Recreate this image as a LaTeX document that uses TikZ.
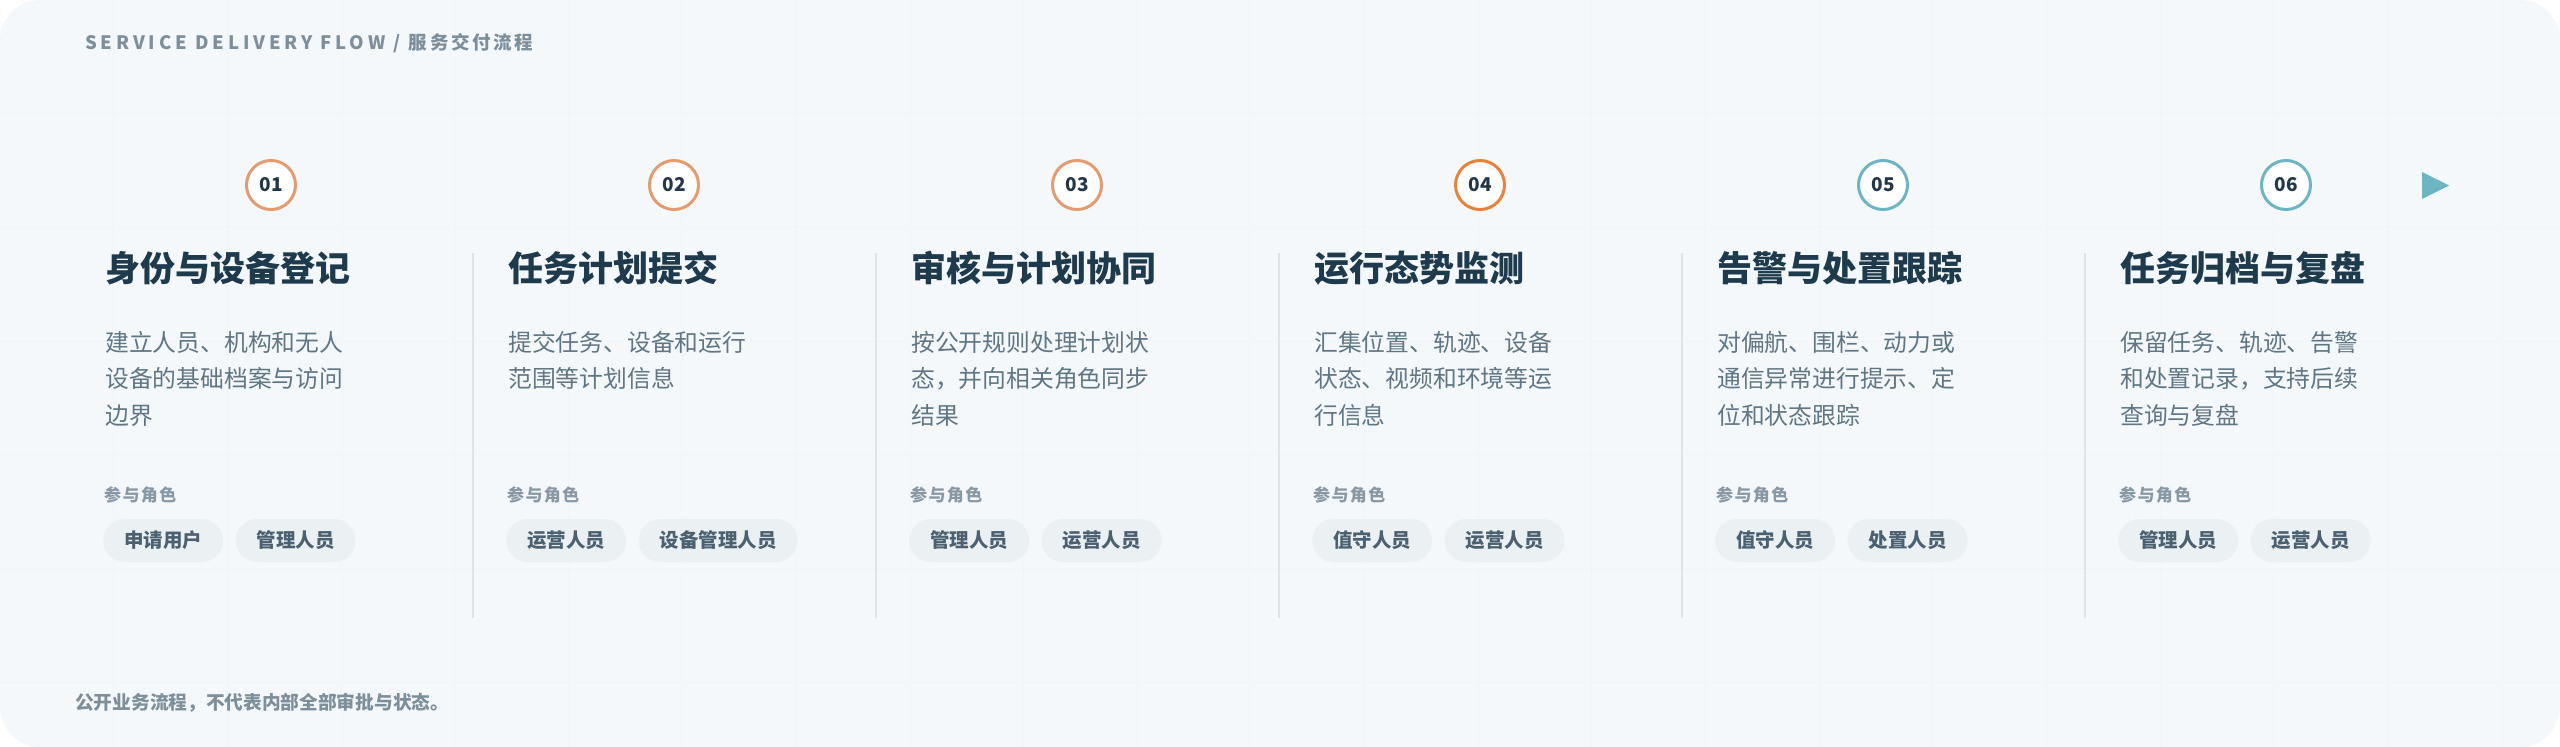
\documentclass[tikz,border=0pt]{standalone}
\usepackage{fontspec}
\setmainfont{Noto Sans CJK SC}
\definecolor{bgc}{HTML}{F5F8FB}
\definecolor{gridc}{HTML}{F1F5F8}
\definecolor{orangeA}{HTML}{E29C6F}
\definecolor{orangeB}{HTML}{E8823A}
\definecolor{tealc}{HTML}{6DB5C3}
\definecolor{titlec}{HTML}{1E3A4D}
\definecolor{bodyc}{HTML}{5F7684}
\definecolor{rolec}{HTML}{8898A4}
\definecolor{pillfill}{HTML}{EBF0F3}
\definecolor{pilltext}{HTML}{4B6171}
\definecolor{hdrc}{HTML}{7D8F9B}
\definecolor{sepc}{HTML}{DDE5EB}
\definecolor{numc}{HTML}{223748}
\tikzset{
  numcirc/.style={circle, line width=3pt, fill=white, minimum size=49pt, inner sep=0pt,
    font=\fontsize{19}{20}\selectfont\bfseries, text=numc},
  titletext/.style={anchor=base west, inner sep=0pt, text=titlec,
    font=\fontsize{35}{40}\selectfont\bfseries},
  bodytext/.style={anchor=base west, inner sep=0pt, text=bodyc,
    font=\fontsize{23.8}{28}\selectfont},
  roletext/.style={anchor=base west, inner sep=0pt, text=rolec,
    font=\fontsize{17}{20}\selectfont\bfseries\addfontfeatures{LetterSpace=8}},
  pill/.style={anchor=west, fill=pillfill, rounded corners=21.5pt, minimum height=43pt,
    inner xsep=21pt, inner ysep=0pt, text=pilltext,
    font=\fontsize{19.5}{22}\selectfont\bfseries},
  sepline/.style={draw=sepc, line width=1.5pt},
}
\newcommand{\flowcol}[9]{%
  \pgfmathsetmacro{\colx}{105+403*(#1-1)}
  \node[numcirc, draw=#3] (n#1) at (\colx+166,185) {#2};
  \node[titletext] (t#1) at (\colx,281) {#4};
  \node[bodytext] (da#1) at (\colx,351) {#5};
  \node[bodytext] (db#1) at (\colx,387.7) {#6};
  \node[bodytext] (dc#1) at (\colx,424.4) {#7};
  \node[roletext] (r#1) at (\colx-1,501.5) {参与角色};
  \node[pill] (pa#1) at (\colx-2,540.5) {#8};
  \node[pill] (pb#1) at ([xshift=12pt]pa#1.east) {#9};
}
\begin{document}
\begin{tikzpicture}[x=1pt,y=-1pt]
\useasboundingbox (0,0) rectangle (2560,747);
\fill[bgc, rounded corners=40pt] (0,0) rectangle (2560,747);
\begin{scope}
  \clip[rounded corners=40pt] (0,0) rectangle (2560,747);
  \foreach \k in {1,...,22} \draw[gridc, line width=1pt] (\k*113.7,0) -- (\k*113.7,747);
  \foreach \k in {1,...,6} \draw[gridc, line width=1pt] (0,\k*113.7) -- (2560,\k*113.7);
\end{scope}
\node[anchor=base west, inner sep=0pt, text=hdrc,
  font=\fontsize{18.5}{20}\selectfont\bfseries] (hdr) at (85,49)
  {{\addfontfeatures{LetterSpace=21}SERVICE DELIVERY FLOW /}\hspace{8pt}{\addfontfeatures{LetterSpace=14}服务交付流程}};
\foreach \k in {2,...,6} \draw[sepline] ({105+403*(\k-1)-35},253) -- ({105+403*(\k-1)-35},618);
\flowcol{1}{01}{orangeA}{身份与设备登记}{建立人员、机构和无人}{设备的基础档案与访问}{边界}{申请用户}{管理人员}
\flowcol{2}{02}{orangeA}{任务计划提交}{提交任务、设备和运行}{范围等计划信息}{}{运营人员}{设备管理人员}
\flowcol{3}{03}{orangeA}{审核与计划协同}{按公开规则处理计划状}{态，并向相关角色同步}{结果}{管理人员}{运营人员}
\flowcol{4}{04}{orangeB}{运行态势监测}{汇集位置、轨迹、设备}{状态、视频和环境等运}{行信息}{值守人员}{运营人员}
\flowcol{5}{05}{tealc}{告警与处置跟踪}{对偏航、围栏、动力或}{通信异常进行提示、定}{位和状态跟踪}{值守人员}{处置人员}
\flowcol{6}{06}{tealc}{任务归档与复盘}{保留任务、轨迹、告警}{和处置记录，支持后续}{查询与复盘}{管理人员}{运营人员}
\fill[tealc] (2422,172) -- (2449,185.5) -- (2422,199) -- cycle;
\node[anchor=base west, inner sep=0pt, text=hdrc,
  font=\fontsize{18.7}{20}\selectfont\bfseries] (ftr) at (75,709)
  {公开业务流程，不代表内部全部审批与状态。};
\end{tikzpicture}
\end{document}
